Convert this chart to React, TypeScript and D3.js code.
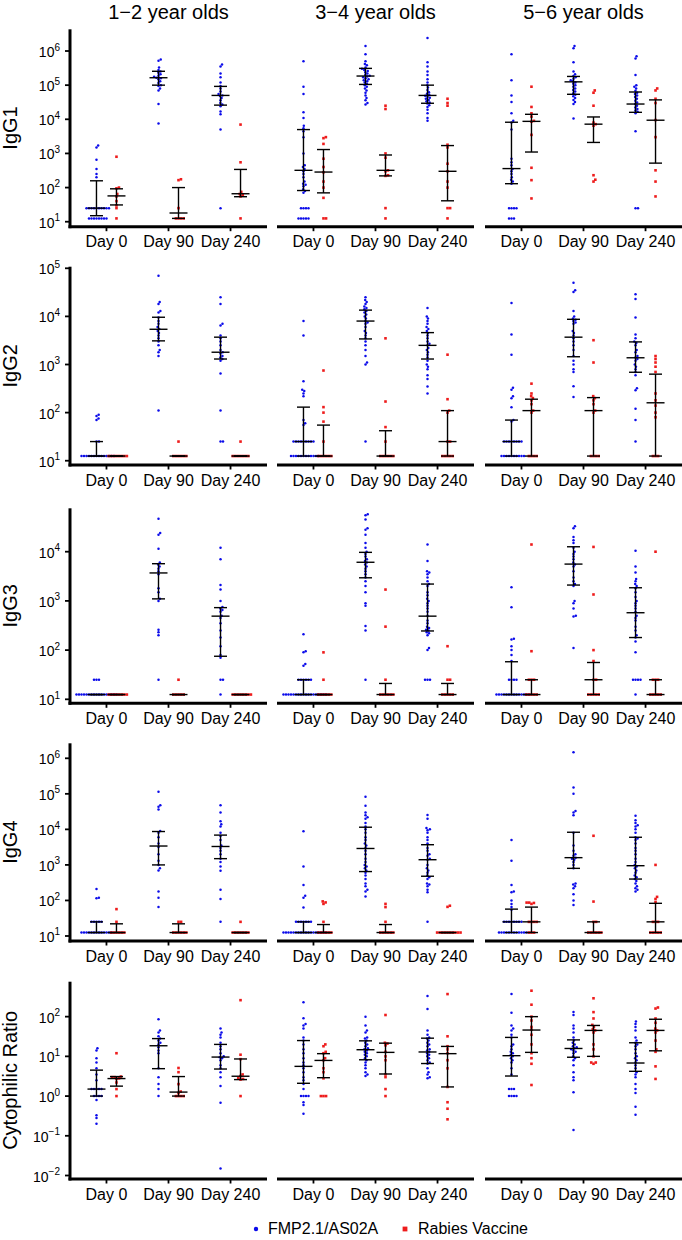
import React from "react";
import * as d3 from "d3";

// ---------- categories / labels ----------
const ages = ["1−2 year olds", "3−4 year olds", "5−6 year olds"];
const days = ["Day 0", "Day 90", "Day 240"];
const measures = ["IgG1", "IgG2", "IgG3", "IgG4", "Cytophilic Ratio"];
const seriesNames = ["FMP2.1/AS02A", "Rabies Vaccine"];
const yTickExps = [
  [1, 2, 3, 4, 5, 6],
  [1, 2, 3, 4, 5],
  [1, 2, 3, 4],
  [1, 2, 3, 4, 5, 6],
  [-2, -1, 0, 1, 2],
];
const yDomainExp = [
  [0.854, 6.636],
  [0.911, 5.033],
  [0.919, 4.882],
  [0.859, 6.422],
  [-2.088, 2.88],
];

// ---------- IgG1 ----------
const igg1_12_fmp = [
  [1700, 1500, 650, 350, 250, 200, 25, 25, 25, 25, 25, 25, 25, 25, 25, 25, 12.5, 12.5, 12.5, 12.5, 12.5, 12.5, 12.5, 12.5],
  [560000, 520000, 330000, 280000, 250000, 230000, 210000, 190000, 175000, 165000, 160000, 150000, 130000, 115000, 100000, 95000, 80000, 70000, 28000, 7500],
  [400000, 350000, 220000, 170000, 120000, 95000, 80000, 65000, 55000, 50000, 48000, 42000, 36000, 30000, 27000, 24000, 17000, 14000, 5000, 25],
];
const igg1_12_rab = [
  [800, 100, 95, 65, 55, 40, 30, 25, 12.5],
  [175, 165, 25, 12.5, 12.5, 12.5, 12.5],
  [7000, 550, 75, 65, 60, 55, 12.5],
];
const igg1_12_fmpStat = [[25, 15, 158], [165000, 100000, 255000], [50000, 26000, 92000]];
const igg1_12_rabStat = [[57, 31, 92], [18, 12.5, 100], [66, 54, 340]];

const igg1_34_fmp = [
  [500000, 90000, 55000, 16000, 11000, 6500, 5500, 4500, 3000, 1000, 450, 400, 350, 300, 250, 200, 150, 130, 120, 110, 90, 80, 70, 25, 25, 25, 25, 12.5, 12.5, 12.5, 12.5, 12.5],
  [1400000, 800000, 500000, 420000, 380000, 330000, 300000, 280000, 260000, 240000, 220000, 200000, 190000, 180000, 170000, 160000, 150000, 140000, 130000, 120000, 110000, 100000, 90000, 80000, 70000, 60000, 50000, 42000, 36000, 30000, 27000],
  [2400000, 470000, 350000, 250000, 200000, 150000, 120000, 100000, 85000, 72000, 62000, 56000, 52000, 49000, 46000, 43000, 40000, 37000, 34000, 31000, 29000, 26000, 23000, 19000, 15000, 11000, 9000],
];
const igg1_34_rab = [
  [3000, 2800, 1900, 700, 400, 280, 150, 100, 50, 12.5, 12.5],
  [25000, 20000, 1000, 750, 320, 300, 230, 220, 25, 12.5],
  [40000, 30000, 25000, 1800, 1500, 500, 300, 150, 100, 25, 25, 12.5],
];
const igg1_34_fmpStat = [[320, 82, 5000], [185000, 105000, 310000], [50000, 29500, 100000]];
const igg1_34_rabStat = [[285, 70, 1300], [320, 220, 900], [300, 41, 1700]];

const igg1_56_fmp = [
  [800000, 140000, 50000, 32000, 15000, 9000, 8000, 5000, 700, 550, 450, 350, 300, 250, 200, 170, 150, 130, 25, 25, 25, 25, 12.5, 12.5, 12.5],
  [1400000, 1200000, 470000, 250000, 210000, 185000, 170000, 155000, 140000, 130000, 120000, 110000, 100000, 90000, 80000, 72000, 65000, 58000, 52000, 47000, 42000, 37000, 32000, 28000, 10500],
  [700000, 600000, 200000, 100000, 90000, 80000, 68000, 60000, 55000, 50000, 45000, 40000, 35000, 31000, 28000, 25000, 22000, 20000, 18000, 16500, 15000, 4500, 25, 25],
];
const igg1_56_rab = [
  [90000, 23000, 15000, 12000, 9000, 8500, 3500, 380, 165, 48],
  [70000, 60000, 25000, 8000, 7200, 6500, 230, 170, 150],
  [80000, 70000, 40000, 30000, 9500, 3000, 320, 150, 55],
];
const igg1_56_fmpStat = [[360, 130, 8200], [125000, 54000, 180000], [28000, 16000, 63000]];
const igg1_56_rabStat = [[8700, 1100, 14000], [7200, 2100, 11700], [9400, 520, 37000]];

// ---------- IgG2 ----------
const igg2_12_fmp = [
  [90, 85, 75, 70, 25, 25, 12.5, 12.5, 12.5, 12.5, 12.5, 12.5, 12.5, 12.5, 12.5, 12.5, 12.5, 12.5, 12.5, 12.5],
  [70000, 20000, 18000, 13000, 12000, 9500, 8000, 7000, 6000, 5500, 5000, 4500, 4000, 3500, 3000, 2500, 2000, 1800, 1500, 110],
  [25000, 18000, 7000, 6500, 4000, 3500, 3000, 2500, 2000, 1800, 1700, 1500, 1400, 1300, 1200, 650, 110, 25, 25],
];
const igg2_12_rab = [
  [12.5, 12.5, 12.5, 12.5, 12.5, 12.5, 12.5, 12.5],
  [25, 12.5, 12.5, 12.5, 12.5, 12.5, 12.5],
  [25, 12.5, 12.5, 12.5, 12.5, 12.5, 12.5, 12.5],
];
const igg2_12_fmpStat = [[12.5, 12.5, 25], [5400, 3100, 9600], [1800, 1300, 3700]];
const igg2_12_rabStat = [[12.5, 12.5, 12.5], [12.5, 12.5, 12.5], [12.5, 12.5, 12.5]];

const igg2_34_fmp = [
  [8000, 4000, 450, 300, 280, 250, 220, 70, 60, 55, 25, 25, 25, 25, 25, 25, 25, 25, 25, 12.5, 12.5, 12.5, 12.5, 12.5, 12.5, 12.5, 12.5, 12.5, 12.5, 12.5, 12.5],
  [25000, 22000, 20000, 18000, 16000, 15000, 14000, 13000, 12000, 11000, 10000, 9000, 8000, 7500, 7000, 6000, 5000, 4500, 4000, 3500, 3000, 2500, 2000, 1500, 1100, 1000, 25],
  [15000, 10000, 9000, 8000, 7000, 6000, 5500, 5000, 4500, 4000, 3500, 3000, 2700, 2500, 2200, 2000, 1800, 1600, 1400, 1200, 1000, 900, 800, 600, 500, 350, 250],
];
const igg2_34_rab = [
  [750, 130, 100, 65, 25, 12.5, 12.5, 12.5, 12.5, 12.5, 12.5],
  [3500, 170, 50, 25, 12.5, 12.5, 12.5, 12.5, 12.5, 12.5],
  [1600, 190, 110, 100, 25, 25, 12.5, 12.5, 12.5, 12.5, 12.5],
];
const igg2_34_fmpStat = [[25, 12.5, 130], [8000, 3400, 13500], [2500, 1300, 4600]];
const igg2_34_rabStat = [[12.5, 12.5, 55], [12.5, 12.5, 42], [25, 12.5, 110]];

const igg2_56_fmp = [
  [19000, 4200, 1600, 330, 300, 220, 200, 130, 70, 65, 25, 25, 25, 25, 25, 25, 25, 25, 12.5, 12.5, 12.5, 12.5, 12.5, 12.5, 12.5, 12.5, 12.5, 12.5],
  [50000, 35000, 32000, 13000, 10000, 9000, 8500, 8000, 7500, 7000, 5000, 4500, 4000, 3500, 3000, 2500, 2000, 1500, 1200, 1000, 800, 700, 355, 210],
  [29000, 23000, 9500, 4200, 3500, 3000, 2800, 2500, 2000, 1800, 1500, 1400, 1300, 1200, 1000, 900, 800, 700, 600, 320, 290, 120, 70, 25],
];
const igg2_56_rab = [
  [400, 250, 220, 200, 180, 150, 110, 100, 12.5, 12.5, 12.5, 12.5],
  [3200, 1100, 220, 200, 180, 150, 110, 100, 12.5, 12.5, 12.5, 12.5],
  [1500, 1300, 1100, 900, 700, 250, 180, 140, 100, 80, 12.5, 12.5, 12.5],
];
const igg2_56_fmpStat = [[25, 12.5, 70], [3700, 1450, 8700], [1380, 690, 2950]];
const igg2_56_rabStat = [[110, 12.5, 190], [110, 12.5, 205], [160, 12.5, 630]];

// ---------- IgG3 ----------
const igg3_12_fmp = [
  [25, 25, 25, 12.5, 12.5, 12.5, 12.5, 12.5, 12.5, 12.5, 12.5, 12.5, 12.5, 12.5, 12.5, 12.5, 12.5, 12.5, 12.5, 12.5],
  [47000, 24000, 22000, 11500, 6000, 5500, 5000, 4500, 4000, 3500, 1800, 1500, 1100, 1000, 260, 230, 200, 25],
  [12000, 7000, 2100, 1700, 1000, 750, 700, 650, 600, 500, 450, 350, 250, 180, 120, 80, 70, 25, 25, 12.5],
];
const igg3_12_rab = [
  [12.5, 12.5, 12.5, 12.5, 12.5, 12.5, 12.5, 12.5],
  [25, 12.5, 12.5, 12.5, 12.5, 12.5],
  [12.5, 12.5, 12.5, 12.5, 12.5, 12.5, 12.5, 12.5],
];
const igg3_12_fmpStat = [[12.5, 12.5, 12.5], [3700, 1100, 5700], [490, 75, 730]];
const igg3_12_rabStat = [[12.5, 12.5, 12.5], [12.5, 12.5, 12.5], [12.5, 12.5, 12.5]];

const igg3_34_fmp = [
  [210, 95, 90, 52, 48, 25, 25, 25, 25, 25, 25, 12.5, 12.5, 12.5, 12.5, 12.5, 12.5, 12.5, 12.5, 12.5, 12.5, 12.5, 12.5, 12.5, 12.5, 12.5, 12.5, 12.5, 12.5],
  [58000, 55000, 45000, 30000, 28000, 22000, 15000, 12000, 10000, 9000, 8000, 7000, 6500, 6000, 5500, 5000, 4500, 4000, 3500, 3000, 2500, 2000, 1500, 900, 800, 310, 250, 25],
  [14000, 6500, 4000, 3800, 3500, 3000, 2500, 2200, 2000, 1500, 1300, 1100, 1000, 900, 800, 700, 600, 500, 400, 350, 300, 280, 260, 250, 230, 220, 200, 110, 100, 25, 25, 25],
];
const igg3_34_rab = [
  [90, 25, 12.5, 12.5, 12.5, 12.5, 12.5, 12.5],
  [1700, 300, 25, 12.5, 12.5, 12.5, 12.5, 12.5, 12.5],
  [120, 25, 25, 12.5, 12.5, 12.5, 12.5, 12.5],
];
const igg3_34_fmpStat = [[12.5, 12.5, 25], [6100, 2950, 9700], [490, 245, 2200]];
const igg3_34_rabStat = [[12.5, 12.5, 12.5], [12.5, 12.5, 21], [12.5, 12.5, 21]];

const igg3_56_fmp = [
  [1900, 740, 170, 165, 120, 100, 80, 60, 25, 25, 25, 25, 12.5, 12.5, 12.5, 12.5, 12.5, 12.5, 12.5, 12.5, 12.5, 12.5, 12.5, 12.5, 12.5, 12.5],
  [33000, 30000, 20000, 17000, 15000, 12000, 10000, 9000, 8000, 7000, 6000, 5500, 5000, 4000, 3000, 2500, 2200, 2000, 1000, 900, 700, 500, 480, 110],
  [10500, 5000, 3800, 2800, 2500, 2200, 2000, 1800, 1500, 1200, 1000, 900, 800, 700, 600, 500, 450, 400, 300, 250, 200, 180, 150, 90, 25, 25, 25, 25, 12.5],
];
const igg3_56_rab = [
  [14000, 95, 25, 25, 25, 12.5, 12.5, 12.5, 12.5, 12.5],
  [12500, 1350, 100, 60, 25, 25, 12.5, 12.5, 12.5, 12.5, 12.5],
  [10000, 25, 25, 25, 12.5, 12.5, 12.5, 12.5, 12.5],
];
const igg3_56_fmpStat = [[12.5, 12.5, 58], [5600, 2100, 12600], [575, 180, 1850]];
const igg3_56_rabStat = [[12.5, 12.5, 25], [25, 12.5, 56], [12.5, 12.5, 25]];

// ---------- IgG4 ----------
const igg4_12_fmp = [
  [210, 120, 115, 25, 25, 25, 25, 25, 12.5, 12.5, 12.5, 12.5, 12.5, 12.5, 12.5, 12.5, 12.5, 12.5, 12.5, 12.5, 12.5],
  [115000, 48000, 43000, 36000, 9000, 8000, 6000, 4000, 3200, 2000, 1300, 1000, 800, 700, 180, 120, 65],
  [48000, 30000, 17000, 14000, 12000, 8000, 6500, 5000, 3500, 3000, 2500, 2000, 1500, 1200, 900, 680, 200, 110, 25],
];
const igg4_12_rab = [
  [57, 25, 12.5, 12.5, 12.5, 12.5, 12.5, 12.5],
  [25, 25, 12.5, 12.5, 12.5, 12.5, 12.5, 12.5],
  [25, 12.5, 12.5, 12.5, 12.5, 12.5, 12.5, 12.5],
];
const igg4_12_fmpStat = [[12.5, 12.5, 25], [3400, 1000, 8700], [3300, 1500, 6900]];
const igg4_12_rabStat = [[12.5, 12.5, 22], [12.5, 12.5, 22], [12.5, 12.5, 12.5]];

const igg4_34_fmp = [
  [8900, 900, 270, 135, 120, 63, 25, 25, 25, 25, 25, 25, 25, 12.5, 12.5, 12.5, 12.5, 12.5, 12.5, 12.5, 12.5, 12.5, 12.5, 12.5, 12.5, 12.5, 12.5, 12.5, 12.5, 12.5, 12.5],
  [83000, 46000, 30000, 25000, 22000, 20000, 15000, 12000, 10000, 8000, 6000, 5000, 4000, 3500, 3000, 2500, 2000, 1500, 1200, 1000, 900, 800, 700, 600, 500, 400, 300, 250, 200, 180, 130],
  [25500, 20000, 11000, 10000, 9500, 8000, 6000, 5000, 4000, 3000, 2500, 2000, 1800, 1500, 1400, 1000, 800, 700, 600, 500, 450, 400, 300, 280, 250, 200, 170, 25],
];
const igg4_34_rab = [
  [94, 88, 80, 25, 12.5, 12.5, 12.5, 12.5, 12.5, 12.5],
  [80, 65, 25, 12.5, 12.5, 12.5, 12.5, 12.5, 12.5],
  [71, 66, 12.5, 12.5, 12.5, 12.5, 12.5, 12.5, 12.5, 12.5, 12.5, 12.5],
];
const igg4_34_fmpStat = [[12.5, 12.5, 25], [2900, 650, 11500], [1400, 480, 3700]];
const igg4_34_rabStat = [[12.5, 12.5, 21], [12.5, 12.5, 21], [12.5, 12.5, 12.5]];

const igg4_56_fmp = [
  [5000, 1300, 270, 180, 170, 100, 80, 65, 55, 25, 25, 25, 25, 25, 25, 25, 25, 12.5, 12.5, 12.5, 12.5, 12.5, 12.5, 12.5, 12.5, 12.5, 12.5, 12.5, 12.5],
  [1470000, 150000, 100000, 33000, 30000, 25000, 8000, 3500, 2500, 2000, 1800, 1600, 1500, 1400, 1200, 1000, 800, 300, 280, 250, 220, 150, 100, 75],
  [24000, 18000, 15000, 13000, 12000, 10000, 8000, 6000, 5500, 5000, 4000, 3000, 2500, 2000, 1500, 1200, 1000, 900, 800, 700, 600, 500, 450, 400, 350, 300, 250, 220, 200, 180],
];
const igg4_56_rab = [
  [87, 87, 85, 80, 25, 25, 25, 25, 12.5, 12.5, 12.5],
  [6600, 93, 25, 25, 12.5, 12.5, 12.5, 12.5, 12.5, 12.5],
  [1000, 126, 110, 90, 25, 25, 25, 12.5, 12.5, 12.5, 12.5, 12.5],
];
const igg4_56_fmpStat = [[25, 12.5, 57], [1600, 800, 8300], [950, 400, 6000]];
const igg4_56_rabStat = [[25, 12.5, 65], [12.5, 12.5, 25], [25, 12.5, 83]];

// ---------- Cytophilic ratio ----------
const ratio_12_fmp = [
  [16, 14, 9, 7, 5, 3.5, 2.5, 1.5, 1.5, 1.5, 1.5, 1.5, 1, 1, 1, 1, 0.8, 0.33, 0.28, 0.2],
  [86, 45, 40, 32, 28, 25, 22, 20, 17, 14, 12, 5, 3, 2, 1.5, 1.0],
  [50, 40, 35, 30, 22, 18, 15, 12, 10, 9.5, 9, 8, 6, 5, 4, 3, 1.8, 0.68, 0.015],
];
const ratio_12_rab = [
  [12, 3.1, 3, 3, 2.8, 2.7, 2.2, 1.5, 1.0],
  [5.1, 4, 2, 1.3, 1.2, 1.0, 1.0, 1.0, 1.0],
  [260, 11, 8.5, 3.5, 3.2, 2.8, 2.7, 2.6, 1.0],
];
const ratio_12_fmpStat = [[1.5, 1.0, 4.5], [18.5, 4.9, 28], [9.6, 4.8, 20]];
const ratio_12_rabStat = [[2.76, 1.78, 3.1], [1.26, 1.0, 3.1], [3.16, 2.6, 8.6]];

const ratio_34_fmp = [
  [230, 91, 65, 60, 50, 30, 25, 20, 15, 12, 9, 7, 6, 5, 4, 3, 2.5, 2, 1.5, 1, 1, 1, 1, 0.7, 0.6, 0.36],
  [100, 60, 45, 40, 30, 28, 25, 22, 20, 18, 16, 15, 14, 13, 12, 11, 10, 9, 8, 7, 6, 5, 4, 3.5, 3.2],
  [330, 155, 45, 35, 30, 28, 25, 22, 20, 18, 15, 14, 13, 12, 11, 10, 9, 8, 7, 6.5, 5, 4, 3.5, 3, 2.8],
];
const ratio_34_rab = [
  [20, 18, 13, 12, 9, 8, 5, 4, 2.8, 1.0, 1.0, 1.0],
  [110, 22, 21, 19, 13, 10, 8, 3.5, 3, 1.5, 1.0],
  [370, 32, 18, 15, 12, 8, 5, 1.7, 0.7, 0.48, 0.26],
];
const ratio_34_fmpStat = [[5.6, 2.1, 25], [14.7, 8.2, 24.6], [12.9, 6.6, 28.7]];
const ratio_34_rabStat = [[7.9, 2.9, 11.7], [12.6, 3.6, 21.5], [11.7, 1.7, 17.8]];

const ratio_56_fmp = [
  [370, 126, 60, 50, 45, 35, 30, 20, 18, 15, 13, 12, 11, 10, 9, 8, 7, 5, 3.5, 1.5, 1.5, 1.5, 1, 1, 1, 1],
  [130, 110, 60, 50, 40, 30, 25, 22, 20, 18, 17, 16, 15, 14, 13, 12, 10, 9, 8, 6, 4, 3, 2.5, 1.25, 0.14],
  [75, 65, 55, 45, 30, 25, 22, 20, 18, 15, 12, 10, 9, 8, 7, 6, 5, 4, 3.5, 3, 2, 1.5, 1.2, 0.54, 0.34],
];
const ratio_56_rab = [
  [450, 200, 100, 80, 55, 47, 35, 20, 12, 9, 6.5, 1.9],
  [290, 130, 90, 62, 55, 48, 45, 40, 20, 15, 10, 7, 7, 6.5],
  [170, 160, 90, 70, 50, 45, 40, 25, 15, 13, 5.6, 2.7],
];
const ratio_56_fmpStat = [[10.4, 3.2, 30], [15.8, 9.5, 26], [6.8, 4.2, 22]];
const ratio_56_rabStat = [[46, 12.6, 100], [45, 10, 60], [45, 13.8, 86]];

// ---------- assemble ----------
type Panel = { fmp: number[][]; rab: number[][]; fmpStat: number[][]; rabStat: number[][] };
const grid: Panel[][] = [
  [
    { fmp: igg1_12_fmp, rab: igg1_12_rab, fmpStat: igg1_12_fmpStat, rabStat: igg1_12_rabStat },
    { fmp: igg1_34_fmp, rab: igg1_34_rab, fmpStat: igg1_34_fmpStat, rabStat: igg1_34_rabStat },
    { fmp: igg1_56_fmp, rab: igg1_56_rab, fmpStat: igg1_56_fmpStat, rabStat: igg1_56_rabStat },
  ],
  [
    { fmp: igg2_12_fmp, rab: igg2_12_rab, fmpStat: igg2_12_fmpStat, rabStat: igg2_12_rabStat },
    { fmp: igg2_34_fmp, rab: igg2_34_rab, fmpStat: igg2_34_fmpStat, rabStat: igg2_34_rabStat },
    { fmp: igg2_56_fmp, rab: igg2_56_rab, fmpStat: igg2_56_fmpStat, rabStat: igg2_56_rabStat },
  ],
  [
    { fmp: igg3_12_fmp, rab: igg3_12_rab, fmpStat: igg3_12_fmpStat, rabStat: igg3_12_rabStat },
    { fmp: igg3_34_fmp, rab: igg3_34_rab, fmpStat: igg3_34_fmpStat, rabStat: igg3_34_rabStat },
    { fmp: igg3_56_fmp, rab: igg3_56_rab, fmpStat: igg3_56_fmpStat, rabStat: igg3_56_rabStat },
  ],
  [
    { fmp: igg4_12_fmp, rab: igg4_12_rab, fmpStat: igg4_12_fmpStat, rabStat: igg4_12_rabStat },
    { fmp: igg4_34_fmp, rab: igg4_34_rab, fmpStat: igg4_34_fmpStat, rabStat: igg4_34_rabStat },
    { fmp: igg4_56_fmp, rab: igg4_56_rab, fmpStat: igg4_56_fmpStat, rabStat: igg4_56_rabStat },
  ],
  [
    { fmp: ratio_12_fmp, rab: ratio_12_rab, fmpStat: ratio_12_fmpStat, rabStat: ratio_12_rabStat },
    { fmp: ratio_34_fmp, rab: ratio_34_rab, fmpStat: ratio_34_fmpStat, rabStat: ratio_34_rabStat },
    { fmp: ratio_56_fmp, rab: ratio_56_rab, fmpStat: ratio_56_fmpStat, rabStat: ratio_56_rabStat },
  ],
];

// ---------- layout ----------
const W = 682;
const H = 1240;
const FONT = "'Liberation Sans', Arial, Helvetica, sans-serif";
const colLefts = [70, 277, 485];
const panelW = 197;
const rowBox = [
  { top: 29.3, bottom: 226.7 },
  { top: 266.7, bottom: 465 },
  { top: 508.3, bottom: 703.3 },
  { top: 743.3, bottom: 941 },
  { top: 981.7, bottom: 1179 },
];
const BLUE = "#0b0bea";
const RED = "#ee1c1c";
const DODGE = 10;

function swarm(ys: number[], cx: number, d: number): number[] {
  const order = ys.map((_, i) => i).sort((a, b) => ys[b] - ys[a] || a - b);
  const placed: [number, number][] = [];
  const xs: number[] = new Array(ys.length);
  for (const i of order) {
    const y = ys[i];
    const near = placed.filter((p) => Math.abs(p[1] - y) < d);
    const cands = [cx];
    for (const p of near) {
      const dx = Math.sqrt(d * d - (p[1] - y) * (p[1] - y));
      cands.push(p[0] + dx, p[0] - dx);
    }
    cands.sort((a, b) => Math.abs(a - cx) - Math.abs(b - cx) || b - a);
    let chosen = cx;
    for (const x of cands) {
      if (near.every((p) => (p[0] - x) ** 2 + (p[1] - y) ** 2 >= d * d - 1e-6)) {
        chosen = x;
        break;
      }
    }
    xs[i] = chosen;
    placed.push([chosen, y]);
  }
  return xs;
}

function ErrorBar({ x, stat, y }: { x: number; stat: number[]; y: d3.ScaleLogarithmic<number, number> }) {
  const [med, q1, q3] = stat;
  return (
    <g stroke="#000" strokeWidth={1.4}>
      <line x1={x} x2={x} y1={y(q1)} y2={y(q3)} />
      <line x1={x - 6.5} x2={x + 6.5} y1={y(q1)} y2={y(q1)} />
      <line x1={x - 6.5} x2={x + 6.5} y1={y(q3)} y2={y(q3)} />
      <line x1={x - 9} x2={x + 9} y1={y(med)} y2={y(med)} />
    </g>
  );
}

function expLabel(e: number) {
  return e < 0 ? "−" + Math.abs(e) : String(e);
}

export default function App() {
  return (
    <svg
      width={W}
      height={H}
      style={{ position: "absolute", left: 0, top: 0 }}
      fontFamily={FONT}
    >
      <rect width={W} height={H} fill="#fff" />
      {ages.map((a, c) => (
        <text key={a} x={colLefts[c] + panelW / 2} y={19} fontSize={20} textAnchor="middle">
          {a}
        </text>
      ))}
      {grid.map((panels, r) => {
        const box = rowBox[r];
        const y = d3
          .scaleLog()
          .domain([Math.pow(10, yDomainExp[r][0]), Math.pow(10, yDomainExp[r][1])])
          .range([box.bottom, box.top]);
        const cy = (box.top + box.bottom) / 2;
        return (
          <g key={r}>
            <text
              transform={`translate(17,${cy}) rotate(-90)`}
              textAnchor="middle"
              fontSize={20}
            >
              {measures[r]}
            </text>
            {/* y axis (first column only) */}
            <line x1={70} x2={70} y1={box.top} y2={box.bottom + 1.5} stroke="#000" strokeWidth={3} />
            {yTickExps[r].map((e) => {
              const ty = y(Math.pow(10, e));
              return (
                <g key={e}>
                  <line x1={65} x2={70} y1={ty} y2={ty} stroke="#000" strokeWidth={1.8} />
                  <text x={60} y={ty + 6} fontSize={14} textAnchor="end">
                    10
                    <tspan dy={-6.5} fontSize={10}>
                      {expLabel(e)}
                    </tspan>
                  </text>
                </g>
              );
            })}
            {panels.map((p, c) => {
              const left = colLefts[c];
              const x = d3.scalePoint<string>().domain(days).range([left, left + panelW]).padding(0.588);
              return (
                <g key={c}>
                  {days.map((d, di) => {
                    const cx = x(d)!;
                    const fy = p.fmp[di].map((v) => y(v));
                    const fx = swarm(fy, cx - DODGE, 2.5);
                    const ry = p.rab[di].map((v) => y(v));
                    const rx = swarm(ry, cx + DODGE, 2.6);
                    return (
                      <g key={d}>
                        {fy.map((yy, i) => (
                          <circle key={"f" + i} cx={fx[i]} cy={yy} r={1.25} fill={BLUE} />
                        ))}
                        {ry.map((yy, i) => (
                          <rect key={"r" + i} x={rx[i] - 1.3} y={yy - 1.3} width={2.6} height={2.6} fill={RED} />
                        ))}
                        <ErrorBar x={cx - DODGE} stat={p.fmpStat[di]} y={y} />
                        <ErrorBar x={cx + DODGE} stat={p.rabStat[di]} y={y} />
                      </g>
                    );
                  })}
                  <line
                    x1={c === 0 ? 68.5 : left}
                    x2={left + panelW}
                    y1={box.bottom}
                    y2={box.bottom}
                    stroke="#000"
                    strokeWidth={3}
                  />
                  {days.map((d) => (
                    <g key={d}>
                      <line x1={x(d)} x2={x(d)} y1={box.bottom} y2={box.bottom + 4.5} stroke="#000" strokeWidth={1.8} />
                      <text x={x(d)} y={box.bottom + 20.5} fontSize={16} textAnchor="middle">
                        {d}
                      </text>
                    </g>
                  ))}
                </g>
              );
            })}
          </g>
        );
      })}
      {/* legend */}
      <g>
        <circle cx={256} cy={1229} r={2.2} fill={BLUE} />
        <text x={268} y={1234} fontSize={16}>
          {seriesNames[0]}
        </text>
        <rect x={402.6} y={1226.6} width={4.8} height={4.8} fill={RED} />
        <text x={418} y={1234} fontSize={16}>
          {seriesNames[1]}
        </text>
      </g>
    </svg>
  );
}
